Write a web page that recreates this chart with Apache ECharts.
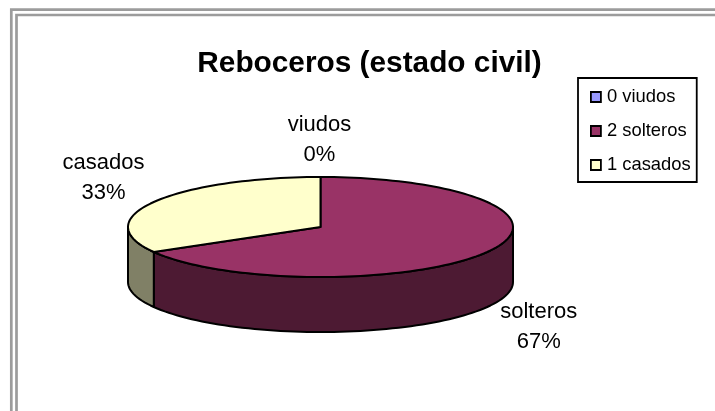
<!DOCTYPE html>
<html><head><meta charset="utf-8">
<style>html,body{margin:0;padding:0;background:#fff}#c{width:715px;height:411px}</style>
<script src="https://cdn.jsdelivr.net/npm/echarts@6/dist/echarts.min.js"></script>
</head><body><div id="c"></div>
<script>
const categories = ['viudos', 'solteros', 'casados'];
const legendNames = ['0 viudos', '2 solteros', '1 casados'];
const seriesValues = [0, 2, 1];
const topColors = ['#9999ff', '#993366', '#ffffcc'];
const sideColors = ['#5c5c99', '#4d1a33', '#808066'];
const titleText = 'Reboceros (estado civil)';

const CX = 320.5, CY = 227, RX = 192.5, RY = 50, DEPTH = 55;
const total = seriesValues.reduce((a, b) => a + b, 0);
const pt = (deg, dy) => {
  const r = deg * Math.PI / 180;
  return [CX + RX * Math.sin(r), CY - RY * Math.cos(r) + (dy || 0)];
};
const arc = (a, b, dy) => {
  const out = [], n = Math.max(1, Math.ceil(Math.abs(b - a) / 2));
  for (let i = 0; i <= n; i++) out.push(pt(a + (b - a) * i / n, dy));
  return out;
};
const stroke = {stroke: '#000', lineWidth: 2, lineJoin: 'round'};

function sliceRender(idx) {
  return function () {
    let start = 0;
    for (let i = 0; i < idx; i++) start += seriesValues[i] / total * 360;
    const end = start + seriesValues[idx] / total * 360;
    const children = [];
    if (end > start) {
      const a = Math.max(start, 90), b = Math.min(end, 270);
      if (b > a) {
        const rim = arc(a, b, 0).concat(arc(b, a, DEPTH));
        children.push({type: 'polygon', shape: {points: rim}, style: Object.assign({fill: sideColors[idx]}, stroke)});
      }
      const topPts = [[CX, CY]].concat(arc(start, end, 0));
      children.push({type: 'polygon', shape: {points: topPts}, style: Object.assign({fill: topColors[idx]}, stroke)});
    }
    return {type: 'group', children};
  };
}

const labelPos = [[319.5, 140], [538.7, 327], [103.5, 178]];
function labelGraphic() {
  return categories.map((c, i) => ({
    type: 'text', x: labelPos[i][0], y: labelPos[i][1], z: 10,
    style: {
      text: c + '\n' + Math.round(seriesValues[i] / total * 100) + '%',
      font: '22px "Liberation Sans", Arial, sans-serif', fill: '#000',
      align: 'center', verticalAlign: 'middle', lineHeight: 30
    }
  }));
}

const frame = [
  {type: 'rect', shape: {x: 11.3, y: 9.7, width: 800, height: 600}, style: {fill: 'none', stroke: '#9c9c9c', lineWidth: 2.7}},
  {type: 'rect', shape: {x: 16.5, y: 15, width: 800, height: 600}, style: {fill: 'none', stroke: '#9c9c9c', lineWidth: 2.7}}
];

const chart = echarts.init(document.getElementById('c'), null, {renderer: 'canvas'});
chart.setOption({
  animation: false,
  backgroundColor: '#fff',
  title: {text: titleText, left: 364.5, top: 44, textAlign: 'center',
    textStyle: {fontFamily: '"Liberation Sans", Arial, sans-serif', fontWeight: 'bold', fontSize: 29.8, color: '#000'}},
  legend: {
    orient: 'vertical', left: 578, top: 78,
    padding: [10, 6, 8, 12], itemGap: 16, itemWidth: 10, itemHeight: 10, icon: 'rect',
    borderColor: '#000', borderWidth: 1.8, backgroundColor: '#fff',
    itemStyle: {borderColor: '#000', borderWidth: 1.8},
    textStyle: {fontFamily: '"Liberation Sans", Arial, sans-serif', fontSize: 18.4, color: '#000', padding: [0, 0, 0, 1]},
    data: legendNames
  },
  graphic: frame.concat(labelGraphic()),
  series: [1, 2, 0].map(i => ({
    type: 'custom', name: legendNames[i], coordinateSystem: 'none', silent: true,
    itemStyle: {color: topColors[i]},
    data: [seriesValues[i]],
    renderItem: sliceRender(i)
  }))
});
</script></body></html>
